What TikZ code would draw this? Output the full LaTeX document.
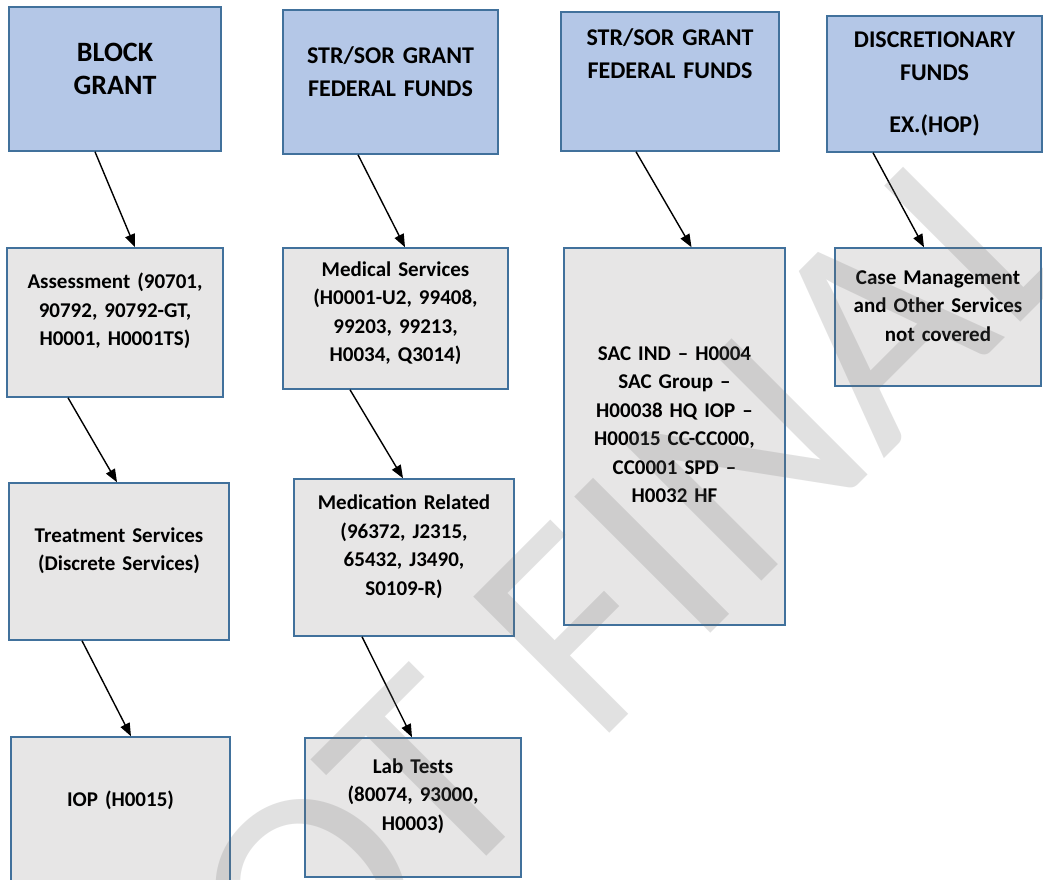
\documentclass[tikz,border=0pt]{standalone}
\usepackage{fontspec}
\setmainfont{Carlito}
\usetikzlibrary{arrows.meta}
\definecolor{fundblue}{HTML}{B4C7E7}
\definecolor{servgray}{HTML}{E7E6E6}
\definecolor{boxline}{HTML}{41719C}
\definecolor{markgray}{HTML}{6D6D6D}
\tikzstyle{fund} = [draw=boxline, fill=fundblue, line width=1.5pt, inner sep=2pt, align=center, font=\fontsize{24}{33}\selectfont\bfseries]
\tikzstyle{serv} = [draw=boxline, fill=servgray, line width=1.5pt, inner sep=2pt, align=center, font=\fontsize{21}{28.5}\selectfont\bfseries]
\tikzstyle{arrow} = [line width=1.4pt, -{Triangle[length=13pt,width=10pt]}]
\tikzset{lift/.style={execute at end node={\par\nointerlineskip\vspace*{#1pt}\hbox{}}}}

\begin{document}
\begin{tikzpicture}[x=1pt, y=-1pt]
        \useasboundingbox (0,0) rectangle (1043,879);
        \clip (0,0) rectangle (1043,879);
        \fill[white] (0,0) rectangle (1043,879);
        % funds
        \draw (115,79) node[fund, minimum width=212, minimum height=144, text width=200, lift=21, font=\fontsize{28}{33}\selectfont\bfseries] (blk) {BLOCK\\ GRANT};
        \draw (390.5,82) node[fund, minimum width=215, minimum height=144, text width=205, lift=21] (str1) {STR/SOR GRANT\\ FEDERAL FUNDS};
        \draw (670,81.5) node[fund, minimum width=218, minimum height=139, text width=208, lift=56] (str2) {STR/SOR GRANT\\ FEDERAL FUNDS};
        \draw (934.5,84) node[fund, minimum width=215, minimum height=136, text width=205] (disc) {DISCRETIONARY\\ FUNDS\\[19pt] EX.(HOP)};
        % services
        \draw (115,322.5) node[serv, minimum width=216, minimum height=149, text width=206, lift=23] (assess) {Assessment (90701,\\ 90792, 90792-GT,\\ H0001, H0001TS)};
        \draw (395.5,318.5) node[serv, minimum width=225, minimum height=141, text width=215, lift=11] (medsrv) {Medical Services\\ (H0001-U2, 99408,\\ 99203, 99213,\\ H0034, Q3014)};
        \draw (674.5,436.5) node[serv, minimum width=221, minimum height=377, text width=211, lift=24] (sac) {SAC IND -- H0004\\ SAC Group --\\ H00038 HQ IOP --\\ H00015 CC-CC000,\\ CC0001 SPD --\\ H0032 HF};
        \draw (938,317) node[serv, minimum width=206, minimum height=138, text width=200, lift=22] (casemgmt) {Case Management\\ and Other Services\\ not covered};
        \draw (119,561.5) node[serv, minimum width=220, minimum height=157, text width=210, lift=22] (treat) {Treatment Services\\ (Discrete Services)};
        \draw (404,557.5) node[serv, minimum width=220, minimum height=157, text width=210, lift=22] (medrel) {Medication Related\\ (96372, J2315,\\ 65432, J3490,\\ S0109-R)};
        \draw (120.5,811) node[serv, minimum width=219, minimum height=148, text width=209, lift=22] (iop) {IOP (H0015)};
        \draw (413,807.5) node[serv, minimum width=216, minimum height=139, text width=206, lift=23] (lab) {Lab Tests\\ (80074, 93000,\\ H0003)};
        % arrows
        \draw[arrow] ([xshift=-20pt]blk.south) -- ([xshift=20pt]assess.north);
        \draw[arrow] ([xshift=-32.5pt]str1.south) -- ([xshift=9.5pt]medsrv.north);
        \draw[arrow] ([xshift=-34pt]str2.south) -- ([xshift=17pt]sac.north);
        \draw[arrow] ([xshift=-61.5pt]disc.south) -- ([xshift=-14pt]casemgmt.north);
        \draw[arrow] ([xshift=-47pt]assess.south) -- ([xshift=-2pt]treat.north);
        \draw[arrow] ([xshift=-45.5pt]medsrv.south) -- ([xshift=-1pt]medrel.north);
        \draw[arrow] ([xshift=-37pt]treat.south) -- ([xshift=10.5pt]iop.north);
        \draw[arrow] ([xshift=-42pt]medrel.south) -- ([xshift=-1pt]lab.north);
        % watermark
        \node[rotate=45, text=markgray, text opacity=0.2, font=\fontsize{300}{300}\selectfont] (wmark) at (566,641) {NOT FINAL};
\end{tikzpicture}
\end{document}
